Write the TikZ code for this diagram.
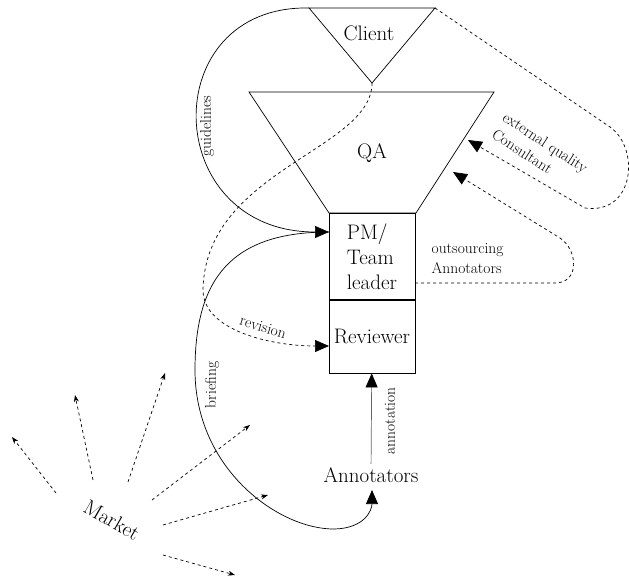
\documentclass[tikz,border=0pt]{standalone}
\usepackage{fontspec}
\usetikzlibrary{arrows.meta,calc}

\tikzset{
  big/.style={font=\fontsize{21}{25}\selectfont},
  lbl/.style={font=\fontsize{15.5}{20}\selectfont},
  head/.style={-{Triangle[length=14pt,width=12pt]}},
  mkt/.style={dashed,-{Stealth[length=7pt,width=5pt]}},
}

\begin{document}
\begin{tikzpicture}[x=1pt,y=-1pt,line width=0.7pt]
  \useasboundingbox (0,0) rectangle (629,580);

  % client and QA funnel
  \coordinate (cl) at (309,8);
  \coordinate (cr) at (435,8);
  \coordinate (capex) at (372,83);
  \draw (cl) -- (cr) -- (capex) -- cycle;
  \draw (249,92) -- (494,92) -- (416,213) -- (329,213) -- cycle;

  \node[big] (client) at (369,33) {Client};
  \node[big] (qa) at (372,153) {QA};

  \node[big,draw,minimum width=86pt,minimum height=86pt,align=left,anchor=north] (pm) at (372,213) {PM/\\Team\\leader};
  \node[big,draw,minimum width=86pt,minimum height=73pt,inner sep=1pt,anchor=north] (rev) at (pm.south) {Reviewer};
  \node[big] (ann) at (371,475) {Annotators};
  \node[big,rotate=-30] (market) at (112,520) {Market};

  % ends of the connectors
  \coordinate (pm in) at (329,232);
  \coordinate (rev in) at (329,346);
  \coordinate (pm out) at (415,283);
  \coordinate (qa ext) at (468,140);
  \coordinate (qa out) at (453,172);
  \coordinate (ann in) at (372,490);

  \draw[head] (cl) .. controls (155,5) and (160,232) .. (pm in);
  \draw (pm in) .. controls (230,232) and (195,280) .. (195,370)
    .. controls (195,470) and (280,530) .. (335,529);
  \draw[head] (335,529) .. controls (365,528) and (372,510) .. (ann in);
  \draw[head,dashed] (capex) .. controls (372,150) and (205,170) .. (203,290)
    .. controls (203,330) and (270,346) .. (rev in);
  \draw[black!60,-{Triangle[length=14pt,width=12pt,black]}] (ann) -- (rev);
  \draw[dashed,head] (cr) -- (610,127) .. controls (640,148) and (635,215) .. (585,208) -- (qa ext);
  \draw[dashed,head] (pm out) -- (555,283) .. controls (580,283) and (578,250) .. (560,238) -- (qa out);

  % labels
  \node[lbl,rotate=90] (guide) at (207,126) {guidelines};
  \node[lbl,rotate=90] (brief) at (212,385) {briefing};
  \node[lbl,rotate=90] (annot) at (390,421) {annotation};
  \node[lbl,rotate=-17] (revis) at (263,327) {revision};
  \node[lbl,rotate=-33,align=left] (ext) at (540,151) {external quality\\Consultant};
  \node[lbl,align=left,anchor=west] (outs) at (428,259) {outsourcing\\Annotators};

  % market arrows
  \foreach \xa/\ya/\xb/\yb [count=\i] in {56/493/12/437, 93/480/75/395, 128/482/165/373,
      152/500/250/425, 163/525/268/495, 163/555/235/575} {
    \coordinate (m\i a) at (\xa,\ya);
    \coordinate (m\i b) at (\xb,\yb);
    \draw[mkt] (m\i a) -- (m\i b);
  }

\end{tikzpicture}
\end{document}
